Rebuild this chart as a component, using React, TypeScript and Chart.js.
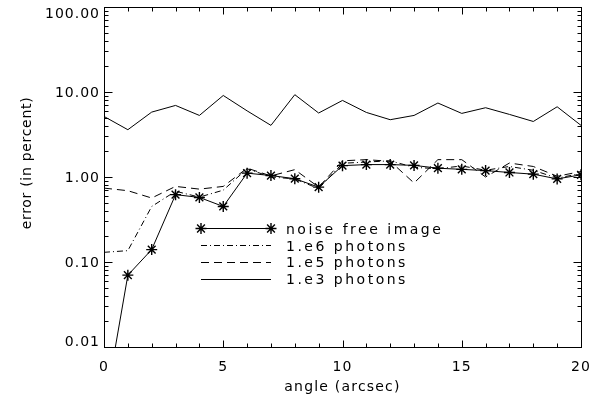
import React, { useEffect, useRef } from "react";
import { Chart, registerables } from "chart.js";

Chart.register(...registerables);

const angles = [0, 1, 2, 3, 4, 5, 6, 7, 8, 9, 10, 11, 12, 13, 14, 15, 16, 17, 18, 19, 20];
const noiseFree = [0.0017, 0.07, 0.14, 0.62, 0.575, 0.45, 1.11, 1.04, 0.955, 0.76, 1.36, 1.4, 1.4, 1.37, 1.27, 1.23, 1.19, 1.13, 1.08, 0.95, 1.06];
const photons1e6 = [0.13, 0.136, 0.45, 0.68, 0.58, 0.7, 1.25, 1.0, 0.95, 0.73, 1.45, 1.5, 1.55, 1.3, 1.25, 1.35, 1.2, 1.33, 1.2, 0.97, 1.1];
const photons1e5 = [0.74, 0.69, 0.566, 0.775, 0.72, 0.775, 1.27, 1.03, 1.22, 0.76, 1.55, 1.6, 1.53, 0.85, 1.6, 1.6, 1.0, 1.46, 1.33, 1.02, 1.16];
const photons1e3 = [5.16, 3.6, 5.8, 6.95, 5.3, 9.1, 6.0, 4.05, 9.3, 5.66, 7.96, 5.75, 4.72, 5.3, 7.42, 5.6, 6.53, 5.45, 4.5, 6.7, 4.05];

const yTickValues = [0.01, 0.1, 1, 10, 100];
const yTickLabels = ["0.01", "0.10", "1.00", "10.00", "100.00"];
const xTickValues = [0, 5, 10, 15, 20];

const legendLabels = ["noise free image", "1.e6 photons", "1.e5 photons", "1.e3 photons"];
const xTitle = "angle (arcsec)";
const yTitle = "error (in percent)";

const FONT = "14px 'DejaVu Sans'";
const DASH_DOT = [6, 3, 1, 3];
const DASHED = [8, 5];

function pts(vals: number[]) {
  return angles.map((a, i) => ({ x: a, y: vals[i] }));
}

function drawStar(ctx: CanvasRenderingContext2D, x: number, y: number, r: number) {
  ctx.beginPath();
  for (let k = 0; k < 4; k++) {
    const ang = (k * Math.PI) / 4;
    const dx = Math.cos(ang) * r;
    const dy = Math.sin(ang) * r;
    ctx.moveTo(x - dx, y - dy);
    ctx.lineTo(x + dx, y + dy);
  }
  ctx.stroke();
}

const framePlugin = {
  id: "frame",
  beforeDraw(chart: any) {
    (chart.ctx as any).letterSpacing = "1px";
  },
  afterDraw(chart: any) {
    const ctx: CanvasRenderingContext2D = chart.ctx;
    const { left, right, top, bottom } = chart.chartArea;
    const xs = chart.scales.x;
    const ys = chart.scales.y;
    ctx.save();
    ctx.strokeStyle = "#000";
    ctx.fillStyle = "#000";
    ctx.lineWidth = 1;
    ctx.setLineDash([]);
    const L = Math.round(left) + 0.5;
    const R = Math.round(right) + 0.5;
    const T = Math.round(top) + 0.5;
    const B = Math.round(bottom) + 0.5;
    ctx.strokeRect(L, T, R - L, B - T);
    ctx.beginPath();
    for (let v = 0; v <= 20; v++) {
      const px = Math.round(xs.getPixelForValue(v)) + 0.5;
      const len = v % 5 === 0 ? 7 : 4;
      ctx.moveTo(px, B);
      ctx.lineTo(px, B - len);
      ctx.moveTo(px, T);
      ctx.lineTo(px, T + len);
    }
    for (let d = -2; d <= 2; d++) {
      for (let m = 1; m <= 9; m++) {
        const v = m * Math.pow(10, d);
        if (v > 100.0001) continue;
        const py = Math.round(ys.getPixelForValue(v)) + 0.5;
        const len = m === 1 ? 8 : 4;
        ctx.moveTo(L, py);
        ctx.lineTo(L + len, py);
        ctx.moveTo(R, py);
        ctx.lineTo(R - len, py);
      }
    }
    ctx.stroke();

    // y tick labels (kept inside the axis span, as in the original)
    ctx.font = FONT;
    (ctx as any).letterSpacing = "1px";
    ctx.textAlign = "right";
    ctx.textBaseline = "middle";
    yTickValues.forEach((v, i) => {
      let py = ys.getPixelForValue(v);
      py = Math.min(Math.max(py, top + 6), bottom - 6);
      ctx.fillText(yTickLabels[i], 100, py + 1);
    });

    // legend
    const lx0 = 201;
    const lx1 = 271;
    const tx = 286;
    const lineRows = [228, 245, 262, 279];
    const baseRows = [234, 250.5, 267, 284];
    const dashes = [[], DASH_DOT, DASHED, []];
    (ctx as any).letterSpacing = "2.5px";
    ctx.textAlign = "left";
    ctx.textBaseline = "alphabetic";
    for (let i = 0; i < 4; i++) {
      const yy = lineRows[i] + 0.5;
      ctx.setLineDash(dashes[i] as number[]);
      ctx.beginPath();
      ctx.moveTo(lx0, yy);
      ctx.lineTo(lx1, yy);
      ctx.stroke();
      ctx.setLineDash([]);
      if (i === 0) {
        ctx.lineWidth = 1.4;
        drawStar(ctx, lx0, yy, 5.5);
        drawStar(ctx, lx1, yy, 5.5);
        ctx.lineWidth = 1;
      }
      ctx.fillText(legendLabels[i], tx, baseRows[i]);
    }

    // axis titles
    (ctx as any).letterSpacing = "1.2px";
    ctx.textAlign = "center";
    ctx.textBaseline = "middle";
    ctx.fillText(xTitle, (left + right) / 2, 387);
    ctx.save();
    ctx.translate(27, 163);
    ctx.rotate(-Math.PI / 2);
    (ctx as any).letterSpacing = "0.7px";
    ctx.fillText(yTitle, 0, 0);
    ctx.restore();
    ctx.restore();
  },
};

export default function App() {
  const ref = useRef<HTMLCanvasElement | null>(null);
  useEffect(() => {
    document.body.style.margin = "0";
    const canvas = ref.current!;
    const common = {
      borderColor: "#000",
      borderWidth: 1,
      backgroundColor: "#000",
      fill: false,
      tension: 0,
    };
    const noPad = (s: any) => {
      s.paddingTop = 0;
      s.paddingBottom = 0;
      s.paddingLeft = 0;
      s.paddingRight = 0;
    };
    const chart = new Chart(canvas, {
      type: "line",
      data: {
        datasets: [
          {
            ...common,
            label: legendLabels[0],
            data: pts(noiseFree),
            pointStyle: "star",
            pointRadius: 5.5,
            pointBorderWidth: 1.4,
            pointBorderColor: "#000",
          },
          { ...common, label: legendLabels[1], data: pts(photons1e6), borderDash: DASH_DOT, pointRadius: 0 },
          { ...common, label: legendLabels[2], data: pts(photons1e5), borderDash: DASHED, pointRadius: 0 },
          { ...common, label: legendLabels[3], data: pts(photons1e3), pointRadius: 0 },
        ] as any,
      },
      options: {
        animation: false,
        responsive: false,
        devicePixelRatio: 1,
        layout: { padding: { left: 0, right: 18, top: 7, bottom: 0 } },
        plugins: { legend: { display: false }, tooltip: { enabled: false } },
        scales: {
          x: {
            type: "linear",
            min: 0,
            max: 20,
            grid: { display: false, drawTicks: false },
            border: { display: false },
            afterBuildTicks: (s: any) => {
              s.ticks = xTickValues.map((v) => ({ value: v }));
            },
            afterFit: (s: any) => {
              s.height = 48;
              noPad(s);
            },
            ticks: {
              padding: 12,
              color: "#000",
              maxRotation: 0,
              font: { family: "'DejaVu Sans'", size: 14 },
              callback: (v: any) => String(v),
            },
          },
          y: {
            type: "logarithmic",
            min: 0.01,
            max: 100,
            grid: { display: false, drawTicks: false },
            border: { display: false },
            afterBuildTicks: (s: any) => {
              s.ticks = yTickValues.map((v) => ({ value: v }));
            },
            afterFit: (s: any) => {
              s.width = 104;
              noPad(s);
            },
            ticks: {
              display: false,
            },
          },
        },
      } as any,
      plugins: [framePlugin],
    });
    return () => chart.destroy();
  }, []);
  return (
    <div style={{ width: 599, height: 395, background: "#fff" }}>
      <canvas ref={ref} width={599} height={395} style={{ display: "block" }} />
    </div>
  );
}
